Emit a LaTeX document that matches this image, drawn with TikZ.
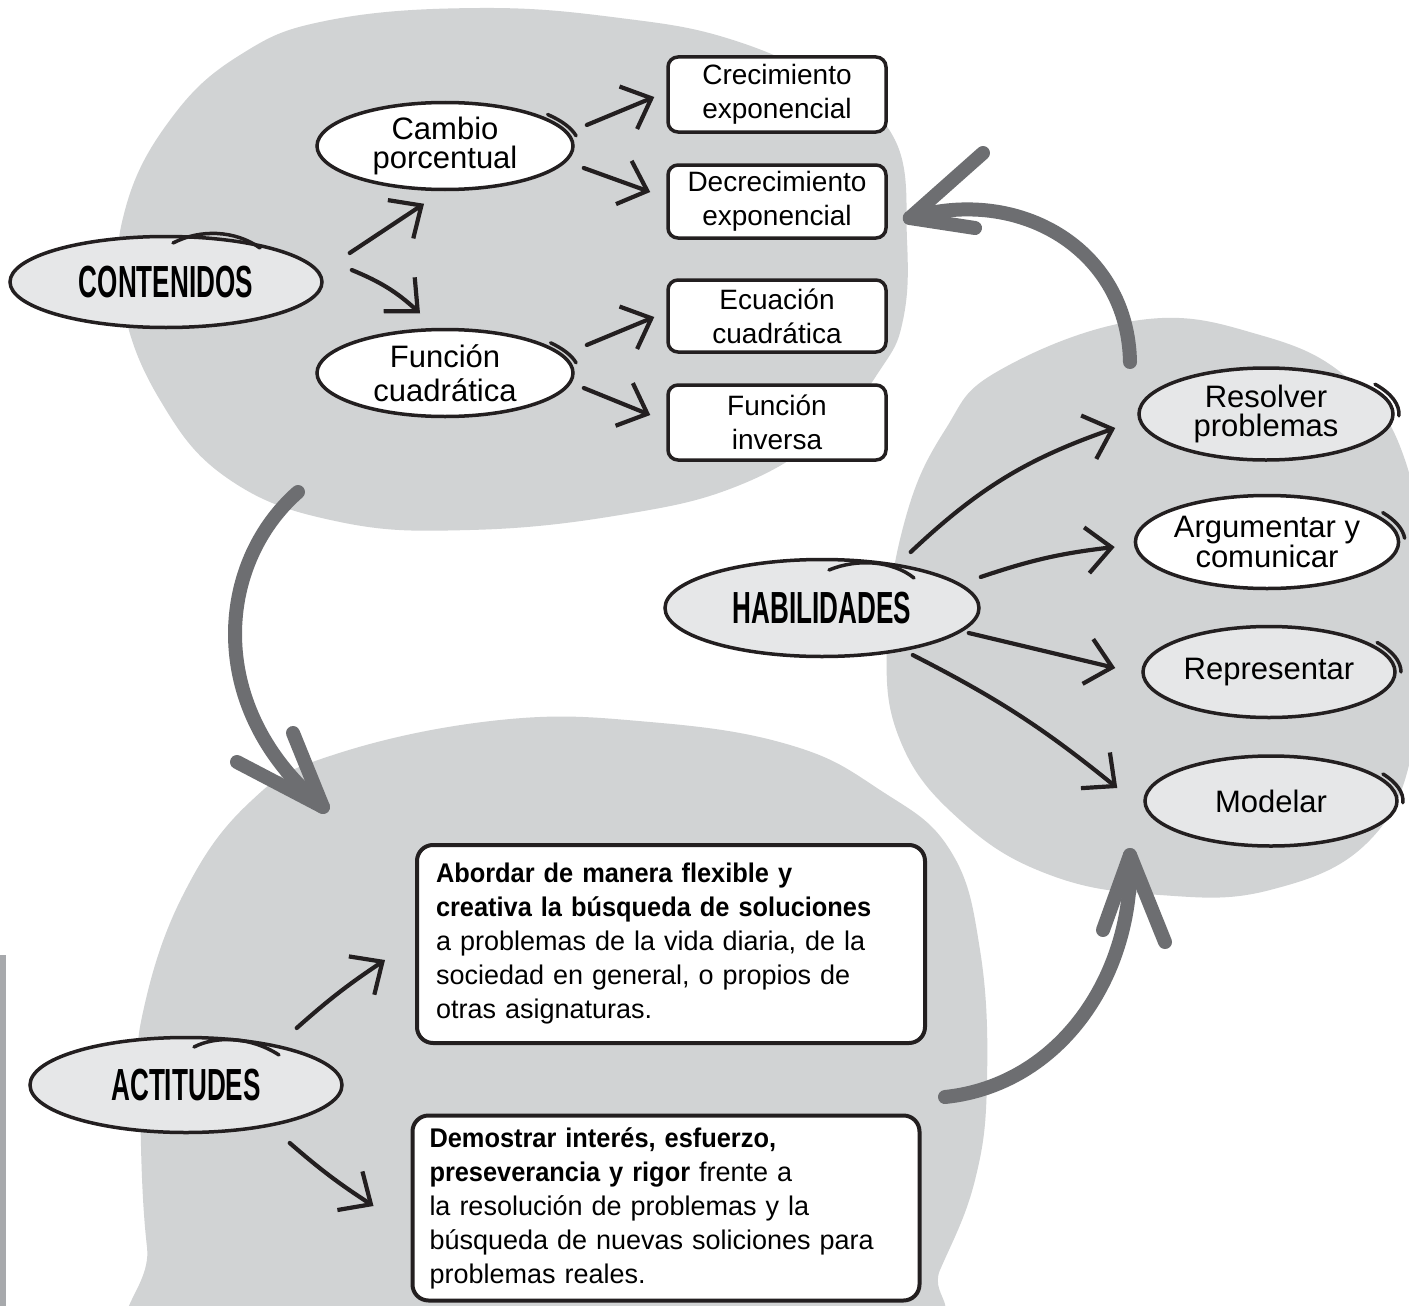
\documentclass[tikz,border=0pt]{standalone}
\usepackage{fontspec}
\setmainfont{Liberation Sans}
\newfontfamily\titlefont{Liberation Sans}[FakeStretch=0.58]
\newfontfamily\boldcond{Liberation Sans}[FakeStretch=0.94]
\usetikzlibrary{arrows.meta,shapes.geometric}
\definecolor{blob}{HTML}{D1D3D4}
\definecolor{egray}{HTML}{E6E7E8}
\definecolor{darr}{HTML}{6D6E71}
\definecolor{ink}{HTML}{231F20}
\definecolor{barc}{HTML}{A7A9AC}
\newcommand\bt[1]{{\boldcond\bfseries #1}}
\begin{document}
\begin{tikzpicture}[x=1pt,y=-1pt,
  ell/.style={ellipse, draw=ink, line width=3.5pt, inner sep=0pt, align=center},
  gell/.style={ell, fill=egray},
  well/.style={ell, fill=white},
  rbox/.style={rectangle, rounded corners=10pt, draw=ink, line width=3.5pt, fill=white, inner sep=0pt, align=center, minimum width=218pt, font=\fontsize{28}{34}\selectfont},
  tbox/.style={rectangle, rounded corners=16pt, draw=ink, line width=4pt, fill=white, inner xsep=19pt, inner ysep=0pt, align=left, font=\fontsize{27}{34}\selectfont},
  title/.style={font=\titlefont\bfseries\fontsize{45}{45}\selectfont},
  lab/.style={font=\fontsize{31}{29}\selectfont},
  arr/.style={draw=ink, line width=4.2pt, line cap=round, line join=round, -{Straight Barb[length=25pt,width=46pt]}},
  garr/.style={draw=darr, line width=14pt, line cap=round, line join=round},
  deco/.style={draw=ink, line width=3.5pt, line cap=round}
]
\useasboundingbox (0,0) rectangle (1409,1306);
\fill[white] (0,0) rectangle (1409,1306);
\begin{scope}
\clip (0,0) rectangle (1409,1306);
% blobs
\fill[blob] plot[smooth cycle, tension=0.7] coordinates {(330,20) (480,8) (620,18) (733,40) (830,85) (895,140) (907,240) (903,320) (880,370) (830,430) (740,485) (620,515) (470,530) (340,522) (230,480) (160,400) (122,300) (125,210) (170,120) (240,55)};
\fill[blob] plot[smooth cycle, tension=0.7] coordinates {(1000,370) (1140,320) (1260,335) (1350,380) (1405,460) (1425,600) (1415,740) (1370,840) (1270,890) (1160,895) (1050,875) (960,820) (900,740) (887,640) (905,520) (945,430)};
\fill[blob] plot[smooth cycle, tension=0.7] coordinates {(500,720) (650,722) (790,745) (880,790) (950,850) (980,950) (987,1080) (975,1180) (940,1270) (910,1330) (600,1360) (170,1350) (147,1247) (140,1091) (143,1012) (183,895) (250,802) (333,755)};
\fill[barc] (0,955) rectangle (6,1306);
\end{scope}

% nodes
\node[gell, minimum width=312pt, minimum height=91pt, title] (cont) at (166,282) {CONTENIDOS};
\node[well, minimum width=256pt, minimum height=87pt, font=\fontsize{31}{29}\selectfont] (cambio) at (445,146) {Cambio\\porcentual};
\node[well, minimum width=256pt, minimum height=87pt, font=\fontsize{31}{34}\selectfont] (func) at (445,373) {Función\\cuadrática};
\node[rbox, minimum height=75pt] (crec) at (777,94.5) {Crecimiento\\exponencial};
\node[rbox, minimum height=73pt] (decrec) at (777,201.5) {Decrecimiento\\exponencial};
\node[rbox, minimum height=72pt] (ecu) at (777,316) {Ecuación\\cuadrática};
\node[rbox, minimum height=75pt] (inv) at (777,422.5) {Función\\inversa};
\node[gell, minimum width=314pt, minimum height=97pt, title] (hab) at (822,608) {HABILIDADES};
\node[gell, minimum width=254pt, minimum height=92pt, font=\fontsize{31}{29}\selectfont] (res) at (1266,414) {Resolver\\problemas};
\node[well, minimum width=256pt, minimum height=93pt, font=\fontsize{31}{27}\selectfont] (arg) at (1267,542) {Argumentar y\\comunicar};
\node[gell, minimum width=252pt, minimum height=91pt, lab] (rep) at (1269,672) {Representar};
\node[gell, minimum width=252pt, minimum height=90pt, lab] (mod) at (1271,801) {Modelar};
\node[gell, minimum width=312pt, minimum height=95pt, title] (act) at (186,1085) {ACTITUDES};
\node[tbox, minimum width=508pt, minimum height=198pt, text width=470pt] (box1) at (671,944)
  {\bt{Abordar de manera flexible y}\\\bt{creativa la búsqueda de soluciones}\\a problemas de la vida diaria, de la\\sociedad en general, o propios de\\otras asignaturas.};
\node[tbox, minimum width=507pt, minimum height=185pt, text width=473pt, inner xsep=17pt] (box2) at (666,1208)
  {\bt{Demostrar interés, esfuerzo,}\\\bt{preseverancia y rigor} frente a\\la resolución de problemas y la\\búsqueda de nuevas soliciones para\\problemas reales.};

% decorative strokes
\draw[deco] (173,243) .. controls (200,229) and (235,230) .. (260,248);
\draw[deco] (829,570) .. controls (858,558) and (893,561) .. (914,578);
\draw[deco] (194,1047) .. controls (215,1036) and (250,1036) .. (279,1055);
\draw[deco] (cambio.center) ++(-40:134 and 49) arc[start angle=-40, end angle=-12, x radius=134, y radius=49];
\draw[deco] (func.center) ++(-38:134 and 49) arc[start angle=-38, end angle=-12, x radius=134, y radius=49];
\draw[deco] (res.center) ++(-35:133 and 52) arc[start angle=-35, end angle=2, x radius=133, y radius=52];
\draw[deco] (arg.center) ++(-33:138 and 54) arc[start angle=-33, end angle=-4, x radius=138, y radius=54];
\draw[deco] (rep.center) ++(-35:132 and 51.5) arc[start angle=-35, end angle=0, x radius=132, y radius=51.5];
\draw[deco] (mod.center) ++(-32:132 and 51) arc[start angle=-32, end angle=2, x radius=132, y radius=51];

% big gray arrows
\coordinate (g1s) at (1130,362);
\coordinate (g1t) at ([shift={(22,16.5)}]decrec.east);
\draw[garr] (g1s) .. controls (1128,250) and (1020,185) .. (g1t);
\draw[garr] (983,153) -- (g1t) -- (975,228);
\coordinate (g2s) at (298,492);
\coordinate (g2t) at (323,807);
\draw[garr] (g2s) .. controls (215,565) and (205,710) .. (g2t);
\draw[garr] (237,762) -- (g2t) -- (293,733);
\coordinate (g3s) at (945,1097);
\coordinate (g3t) at (1130,855);
\draw[garr] (g3s) .. controls (1060,1085) and (1135,975) .. (g3t);
\draw[garr] (1103,930) -- (g3t) -- (1165,942);

% black arrows
\draw[arr] ([shift={(26,-29)}]cont.east) -- ([shift={(-21,12.5)}]cambio.south);
\draw[arr] ([shift={(28,-12)}]cont.east) to[bend left=10] ([shift={(-25,-14.5)}]func.north);
\draw[arr] ([shift={(12,-21)}]cambio.east) -- ([shift={(-12,2.5)}]crec.west);
\draw[arr] ([shift={(9,22)}]cambio.east) -- ([shift={(-16,-9.5)}]decrec.west);
\draw[arr] ([shift={(12,-28)}]func.east) -- ([shift={(-12,1)}]ecu.west);
\draw[arr] ([shift={(9,15)}]func.east) -- ([shift={(-16,-7.5)}]inv.west);
\draw[arr] ([shift={(-70,-56)}]hab.east) to[bend left=12] ([shift={(-22,14)}]res.west);
\draw[arr] ([shift={(0,-31)}]hab.east) to[bend left=6] ([shift={(-19,5)}]arg.west);
\draw[arr] ([shift={(-12,25)}]hab.east) -- ([shift={(-26,-4)}]rep.west);
\draw[arr] ([shift={(-68,47)}]hab.east) to[bend left=6] ([shift={(-26,-13)}]mod.west);
\draw[arr] ([shift={(-47,-57)}]act.east) to[bend left=4] ([shift={(-30,16)}]box1.west);
\draw[arr] ([shift={(-54,58)}]act.east) to[bend right=4] ([shift={(-37,-2)}]box2.west);
\end{tikzpicture}
\end{document}
